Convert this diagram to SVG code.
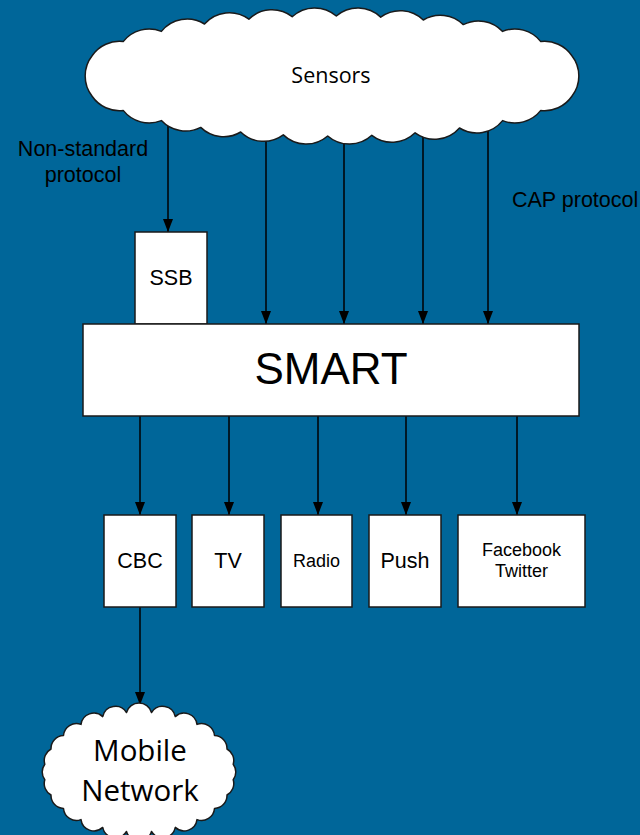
<svg xmlns="http://www.w3.org/2000/svg" width="640" height="835" viewBox="0 0 640 835">
<defs>
<marker id="arr" markerUnits="userSpaceOnUse" viewBox="0 0 13 10" markerWidth="13" markerHeight="10" refX="13" refY="5" orient="auto">
<path d="M0,0 L13,5 L0,10 z" fill="#000"/>
</marker>
<style>
.bg{fill:#006699}
.box{fill:#fff;stroke:#1a1a1a;stroke-width:1.5}
.cloud{fill:#fff;stroke:#1a1a1a;stroke-width:1.5;stroke-linejoin:round}
.conn line{stroke:#000;stroke-width:1.5;marker-end:url(#arr)}
.a{font-family:"Liberation Sans",Arial,sans-serif;fill:#000;text-anchor:middle}
.c{font-family:"Open Sans","Noto Sans",sans-serif;fill:#000;text-anchor:middle}
.lbl{font-family:"Liberation Sans",Arial,sans-serif;fill:#000;font-size:21.5px}
</style>
</defs>
<rect class="bg" x="0" y="0" width="640" height="835"/>
<g id="connectors" class="conn">
<line x1="168" y1="110" x2="168" y2="232"/>
<line x1="266" y1="110" x2="266" y2="324"/>
<line x1="344" y1="110" x2="344" y2="324"/>
<line x1="423" y1="110" x2="423" y2="324"/>
<line x1="488" y1="110" x2="488" y2="324"/>
<line x1="140" y1="416" x2="140" y2="515"/>
<line x1="229" y1="416" x2="229" y2="515"/>
<line x1="318" y1="416" x2="318" y2="515"/>
<line x1="406" y1="416" x2="406" y2="515"/>
<line x1="517" y1="416" x2="517" y2="515"/>
<line x1="140" y1="607" x2="140" y2="705"/>
</g>
<g id="labels">
<text class="lbl" x="83" y="156" text-anchor="middle">Non-standard</text>
<text class="lbl" x="83" y="182" text-anchor="middle">protocol</text>
<text class="lbl" x="512" y="207">CAP protocol</text>
</g>
<g id="sensors">
<path class="cloud" d="M571.7,96.5 A33,33 0 0 1 540.8,110.4 A33,33 0 0 1 502.6,120.6 A33,33 0 0 1 459.5,128 A33,33 0 0 1 415.1,132.8 A33,33 0 0 1 371.8,135.3 A33,33 0 0 1 327.7,136 A33,33 0 0 1 283.3,134.9 A33,33 0 0 1 240.7,132 A33,33 0 0 1 200.7,127.4 A33,33 0 0 1 161.4,120.6 A33,33 0 0 1 123.2,110.4 A33,33 0 0 1 92.3,96.5 A33,33 0 0 1 92.3,55.5 A33,33 0 0 1 123.2,41.6 A33,33 0 0 1 161.4,31.4 A33,33 0 0 1 204.5,24 A33,33 0 0 1 248.9,19.2 A33,33 0 0 1 292.2,16.7 A33,33 0 0 1 336.3,16 A33,33 0 0 1 380.7,17.1 A33,33 0 0 1 423.3,20 A33,33 0 0 1 463.3,24.6 A33,33 0 0 1 502.6,31.4 A33,33 0 0 1 540.8,41.6 A33,33 0 0 1 571.7,55.5 A33,33 0 0 1 571.7,96.5 Z"/>
<text class="c" x="331" y="83" font-size="21.5">Sensors</text>
</g>
<g id="ssb">
<rect class="box" x="135" y="232" width="72" height="92"/>
<text class="a" x="171" y="285" font-size="21.5">SSB</text>
</g>
<g id="smart">
<rect class="box" x="83" y="324" width="496" height="92"/>
<text class="a" x="331" y="384" font-size="44">SMART</text>
</g>
<g id="cbc">
<rect class="box" x="104" y="515" width="72" height="92"/>
<text class="a" x="140" y="568" font-size="21.5">CBC</text>
</g>
<g id="tv">
<rect class="box" x="192" y="515" width="72" height="92"/>
<text class="a" x="228" y="568" font-size="21.5">TV</text>
</g>
<g id="radio">
<rect class="box" x="281" y="515" width="71" height="92"/>
<text class="a" x="316.5" y="567" font-size="18">Radio</text>
</g>
<g id="push">
<rect class="box" x="369" y="515" width="72" height="92"/>
<text class="a" x="405" y="568" font-size="21.5">Push</text>
</g>
<g id="social">
<rect class="box" x="458" y="515" width="127" height="92"/>
<text class="a" x="521.5" y="556" font-size="18">Facebook</text>
<text class="a" x="521.5" y="577" font-size="18">Twitter</text>
</g>
<g id="mobile-network">
<path class="cloud" d="M233.2,779.8 A13,13 0 0 1 227,795 A13,13 0 0 1 214.5,808.5 A13,13 0 0 1 197,819.6 A13,13 0 0 1 175.3,827.4 A13,13 0 0 1 151.5,831.5 A13,13 0 0 1 126.5,831.5 A13,13 0 0 1 102.7,827.4 A13,13 0 0 1 81,819.6 A13,13 0 0 1 63.5,808.5 A13,13 0 0 1 51,795 A13,13 0 0 1 44.8,779.8 A13,13 0 0 1 44.8,764.2 A13,13 0 0 1 51,749 A13,13 0 0 1 63.5,735.5 A13,13 0 0 1 81,724.4 A13,13 0 0 1 102.7,716.6 A13,13 0 0 1 126.5,712.5 A13,13 0 0 1 151.5,712.5 A13,13 0 0 1 175.3,716.6 A13,13 0 0 1 197,724.4 A13,13 0 0 1 214.5,735.5 A13,13 0 0 1 227,749 A13,13 0 0 1 233.2,764.2 A13,13 0 0 1 233.2,779.8 Z"/>
<text class="c" x="140" y="761" font-size="29.5">Mobile</text>
<text class="c" x="140" y="801" font-size="29.5">Network</text>
</g>
</svg>
